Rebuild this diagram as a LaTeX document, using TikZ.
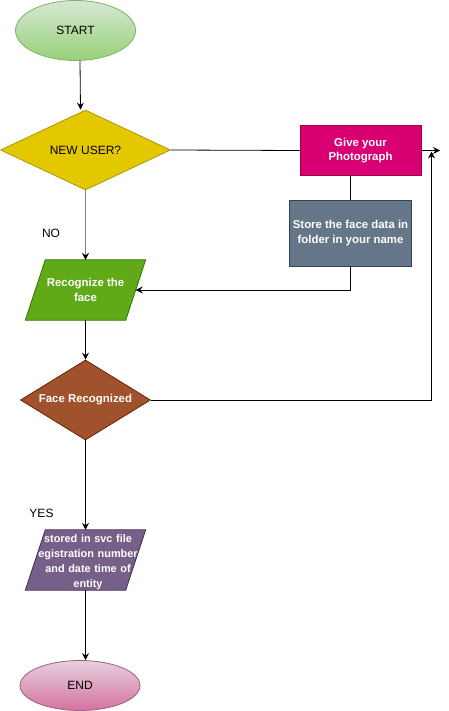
\documentclass[tikz,border=0pt]{standalone}
\usepackage{fontspec}
\setmainfont{Liberation Sans}
\usetikzlibrary{
	arrows.meta,
	shapes.geometric
}
\definecolor{startfilltop}{HTML}{D5E8D4}
\definecolor{startfillbot}{HTML}{97D077}
\definecolor{startline}{HTML}{82B366}
\definecolor{userfill}{HTML}{E3C800}
\definecolor{userline}{HTML}{B09500}
\definecolor{photofill}{HTML}{D80073}
\definecolor{photoline}{HTML}{A50040}
\definecolor{storefill}{HTML}{647687}
\definecolor{storeline}{HTML}{314354}
\definecolor{recogfill}{HTML}{60A917}
\definecolor{recogline}{HTML}{2D7600}
\definecolor{facefill}{HTML}{A0522D}
\definecolor{faceline}{HTML}{6D1F00}
\definecolor{savefill}{HTML}{76608A}
\definecolor{saveline}{HTML}{432D57}
\definecolor{endfilltop}{HTML}{E6D0DE}
\definecolor{endfillbot}{HTML}{D5739D}
\definecolor{endline}{HTML}{996185}
\tikzset{
	blacktext/.style={font=\fontsize{12}{14.5}\selectfont, text=black, align=center},
	whitetext/.style={font=\fontsize{11.4}{14.4}\selectfont\bfseries, text=white, align=center},
	terminal/.style={ellipse, draw, line width=0.8pt, minimum width=120pt},
	decision/.style={diamond, draw, line width=0.8pt, inner sep=0pt, aspect=2},
	process/.style={rectangle, draw, line width=0.8pt, minimum width=121pt},
	inout/.style={rectangle, inner sep=0pt, minimum width=100pt, minimum height=60pt},
	flow/.style={line width=0.8pt, ->}
}

\begin{document}
\begin{tikzpicture}[x=1pt, y=-1pt, >={Stealth[length=7pt, width=7pt, inset=2.5pt]}]
    % Page frame
    \useasboundingbox (0,0) rectangle (449,711);
    %%%
    %%% Shapes
    %%%
    % Start / end
    \node[terminal, blacktext, draw=startline, top color=startfilltop, bottom color=startfillbot, minimum height=60pt] (start) at (75.5,30.5) {START};
    \node[terminal, blacktext, draw=endline, top color=endfilltop, bottom color=endfillbot, minimum height=50pt] (end) at (80,685.5) {END};
    % Decisions
    \node[decision, blacktext, draw=userline, fill=userfill, minimum width=170pt, minimum height=80pt] (newuser) at (85.5,150) {NEW USER?};
    \node[decision, whitetext, draw=faceline, fill=facefill, minimum width=130pt, minimum height=80pt] (facerec) at (85.5,400) {Face Recognized};
    % Processes
    \node[process, whitetext, draw=photoline, fill=photofill, minimum height=50pt] (photo) at (360.5,150.5) {Give your\\Photograph};
    \node[process, whitetext, draw=storeline, fill=storefill, minimum height=66pt] (store) at (350.5,233) {Store the face data in\\folder in your name};
    % Input / output (slanted sides 10pt past the node box)
    \node[inout] (recog) at (85.5,290) {};
    \filldraw[line width=0.8pt, draw=recogline, fill=recogfill] ([xshift=-10pt]recog.south west) -- ([xshift=10pt]recog.north west) -- ([xshift=10pt]recog.north east) -- ([xshift=-10pt]recog.south east) -- cycle;
    \node[whitetext] (recogtext) at (recog.center) {Recognize the\\face};
    \node[inout] (stored) at (85.5,560) {};
    \filldraw[line width=0.8pt, draw=saveline, fill=savefill] ([xshift=-10pt]stored.south west) -- ([xshift=10pt]stored.north west) -- ([xshift=10pt]stored.north east) -- ([xshift=-10pt]stored.south east) -- cycle;
    \node[whitetext, font=\fontsize{10.9}{14.8}\selectfont\bfseries, text width=110pt] (storedtext) at ([xshift=2.5pt, yshift=-2pt]stored.center) {stored in svc file\\egistration number\\and date time of\\entity};
    % Loose arrow ends
    \coordinate (photoend) at (440,150.5);
    \coordinate (faceend) at (431.5,151.5);
    %%%
    %%% Connectors
    %%%
    \draw[flow] ([xshift=4.5pt]start.south) -- ([xshift=-5pt]newuser.north);
    \draw[flow, gray, -{Stealth[length=7pt, width=7pt, inset=2.5pt, black]}] (newuser.south) -- (recog.north);
    \draw[line width=0.8pt] (newuser.east) -- (photo.west);
    \draw[flow] (photo.east) -- (photoend);
    \draw[line width=0.8pt] (photo.south -| store.north) -- (store.north);
    \draw[flow] (store.south) |- (recog.east);
    \draw[flow] (recog.south) -- (facerec.north);
    \draw[flow] (facerec.east) -| (faceend);
    \draw[flow] (facerec.south) -- (stored.north);
    \draw[flow] (stored.south) -- (stored.south |- end.north);
    % Branch labels
    \node[blacktext] (nolabel) at (51,233.5) {NO};
    \node[blacktext] (yeslabel) at (41.5,513.5) {YES};
\end{tikzpicture}
\end{document}
